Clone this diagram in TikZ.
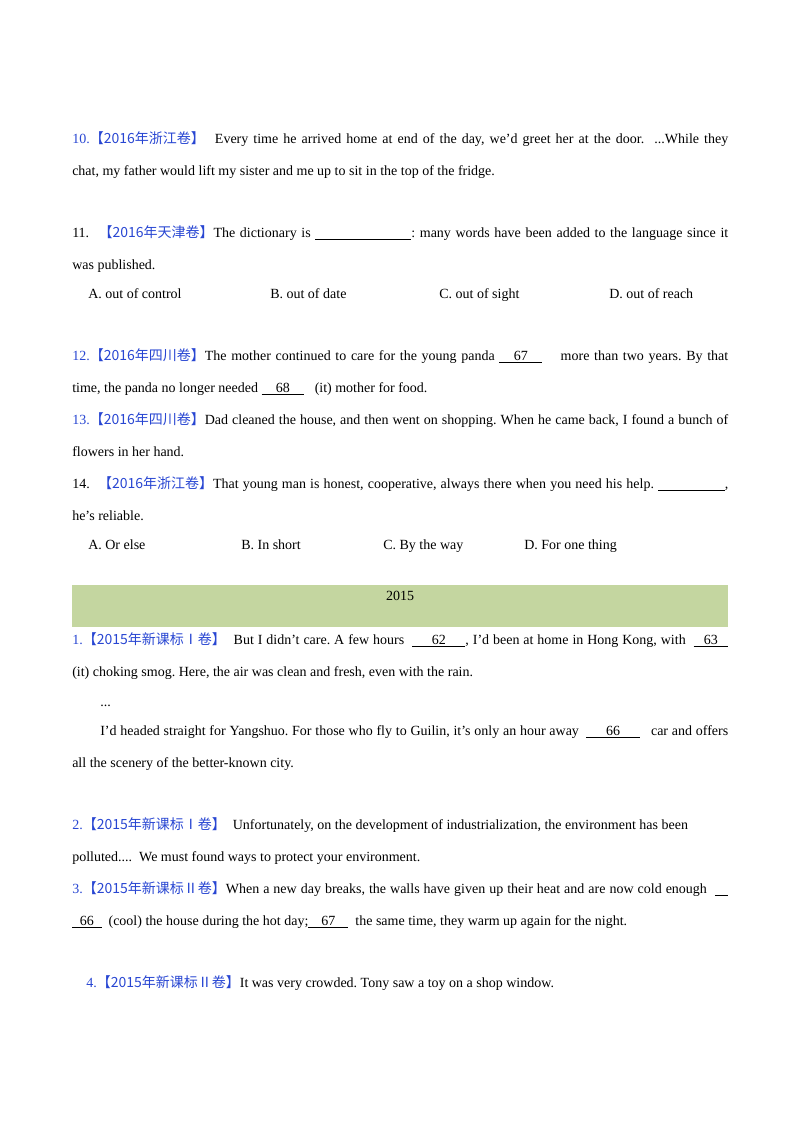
\documentclass[tikz,border=0pt]{standalone}
\usepackage{fontspec}
\setmainfont{Liberation Serif}
\newfontfamily\cjk{Noto Sans CJK SC}
\definecolor{lblue}{RGB}{40,70,210}
\definecolor{band}{RGB}{196,214,160}
\newcommand{\tg}[1]{\textcolor{lblue}{#1}}
\newcommand{\bl}[2]{\underline{\makebox[#1]{#2}}}
\newcommand{\fl}[1]{\makebox[492pt][s]{#1}}
\frenchspacing
\begin{document}
\begin{tikzpicture}[x=0.75pt,y=-0.75pt,
  tl/.style={anchor=base west,inner sep=0pt,font=\fontsize{10.5}{12}\selectfont}]
\useasboundingbox (0,0) rectangle (800,1132);
\fill[band] (72,585) rectangle (728,627);
\node[tl] (a1) at (72,143) {\fl{\tg{10.{\cjk【2016年浙江卷】}}\ \ Every time he arrived home at end of the day, we'd greet her at the door. \ ...While they}};
\node[tl] (a2) at (72,175) {chat, my father would lift my sister and me up to sit in the top of the fridge.};
\node[tl] (b1) at (72,237) {\fl{11.\ \ \tg{\cjk【2016年天津卷】}The dictionary is \bl{72pt}{}: many words have been added to the language since it}};
\node[tl] (b2) at (72,269) {was published.};
\node[tl] (b3) at (88,298) {A. out of control};
\node[tl] (b4) at (270,298) {B. out of date};
\node[tl] (b5) at (439,298) {C. out of sight};
\node[tl] (b6) at (609,298) {D. out of reach};
\node[tl] (c1) at (72,360) {\fl{\tg{12.{\cjk【2016年四川卷】}}The mother continued to care for the young panda \bl{32pt}{67}\ \ \ \ more than two years. By that}};
\node[tl] (c2) at (72,392) {time, the panda no longer needed \bl{32pt}{68}\ \ \ (it) mother for food.};
\node[tl] (d1) at (72,424) {\fl{\tg{13.{\cjk【2016年四川卷】}}Dad cleaned the house, and then went on shopping. When he came back, I found a bunch of}};
\node[tl] (d2) at (72,456) {flowers in her hand.};
\node[tl] (e1) at (72,488) {\fl{14.\ \ \tg{\cjk【2016年浙江卷】}That young man is honest, cooperative, always there when you need his help. \bl{50pt}{},}};
\node[tl] (e2) at (72,520) {he's reliable.};
\node[tl] (e3) at (88,549) {A. Or else};
\node[tl] (e4) at (241,549) {B. In short};
\node[tl] (e5) at (383,549) {C. By the way};
\node[tl] (e6) at (524,549) {D. For one thing};
\node[tl,anchor=base] (y) at (400,600) {2015};
\node[tl] (f1) at (72,644) {\fl{\tg{1.{\cjk【2015年新课标Ⅰ卷】}}\ \ But I didn't care. A few hours \ \bl{40pt}{62},\ I'd been at home in Hong Kong, with \ \bl{26pt}{63}}};
\node[tl] (f2) at (72,676) {(it) choking smog. Here, the air was clean and fresh, even with the rain.};
\node[tl] (f3) at (100,706) {...};
\node[tl] (f4) at (100,735) {\makebox[471pt][s]{I'd headed straight for Yangshuo. For those who fly to Guilin, it's only an hour away \ \bl{40pt}{66}\ \ \ car and offers}};
\node[tl] (f5) at (72,767) {all the scenery of the better-known city.};
\node[tl] (g1) at (72,829) {\tg{2.{\cjk【2015年新课标Ⅰ卷】}}\ \ Unfortunately, on the development of industrialization, the environment has been};
\node[tl] (g2) at (72,861) {polluted.... \ We must found ways to protect your environment.};
\node[tl] (h1) at (72,893) {\fl{\tg{3.{\cjk【2015年新课标Ⅱ卷】}}When a new day breaks, the walls have given up their heat and are now cold enough \ \bl{10pt}{}}};
\node[tl] (h2) at (72,925) {\bl{22pt}{66}\ \ (cool) the house during the hot day;\bl{30pt}{67}\ \ the same time, they warm up again for the night.};
\node[tl] (i1) at (86,987) {\tg{4.{\cjk【2015年新课标Ⅱ卷】}}It was very crowded. Tony saw a toy on a shop window.};
\end{tikzpicture}
\end{document}
